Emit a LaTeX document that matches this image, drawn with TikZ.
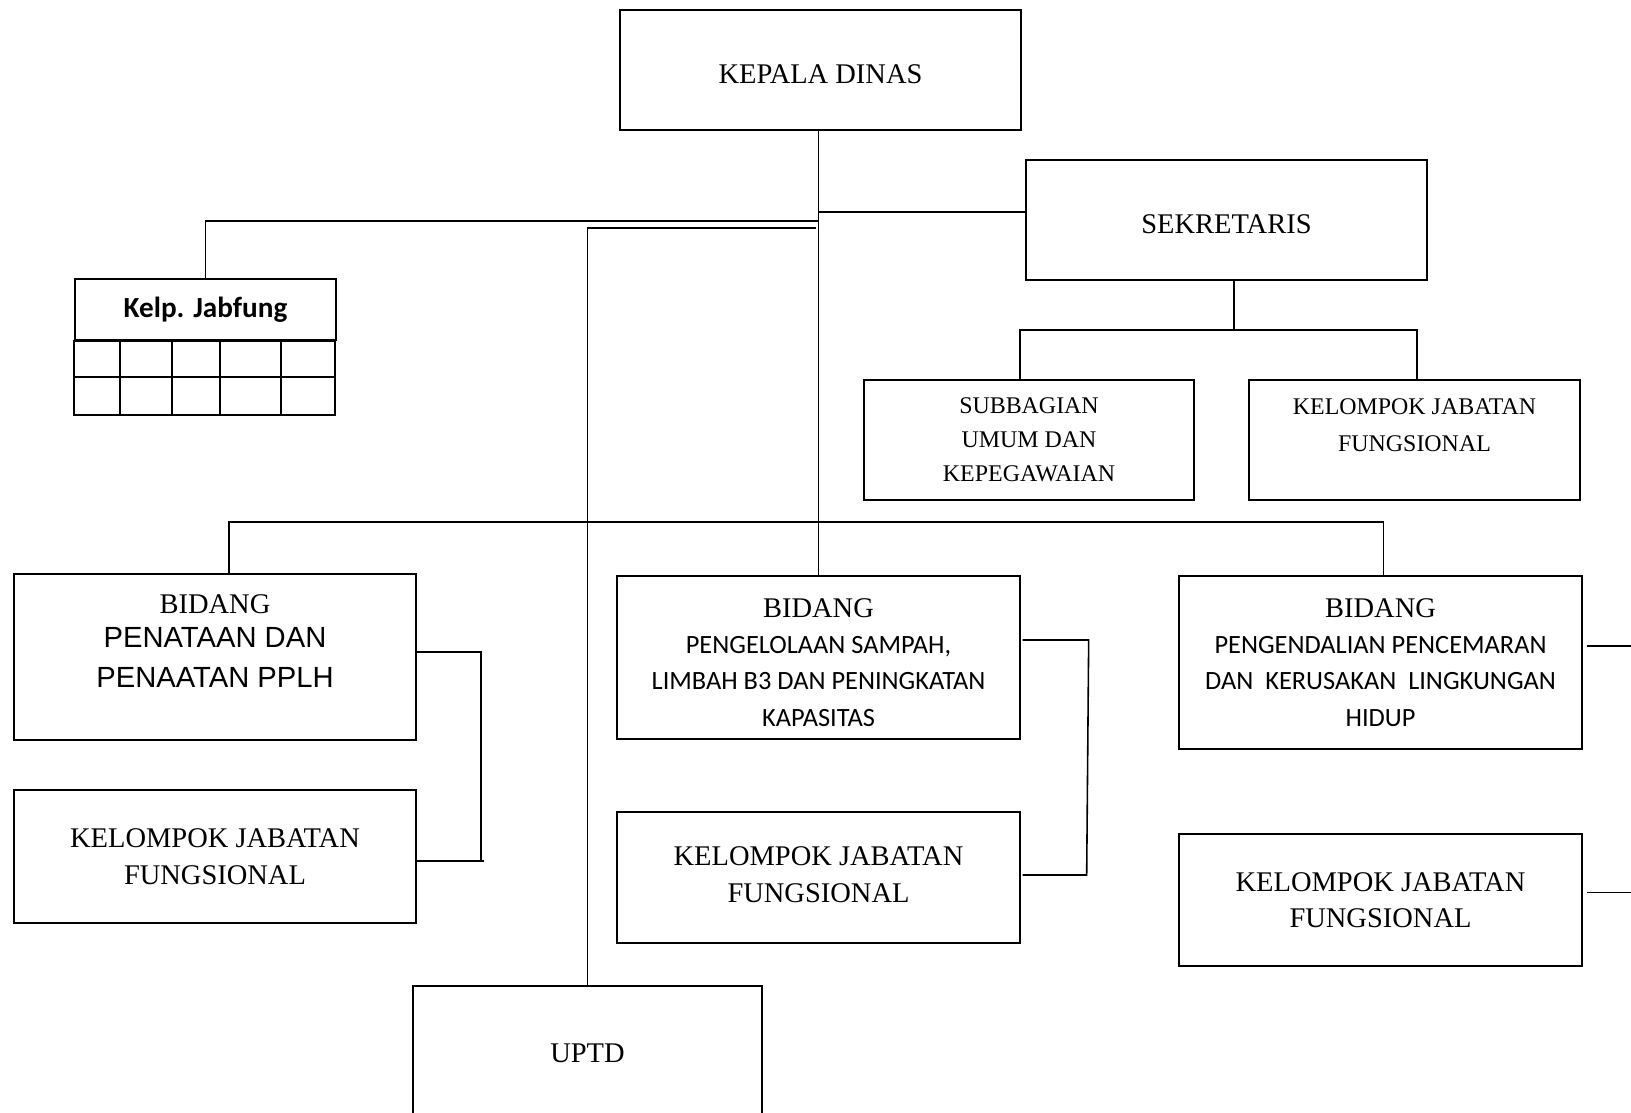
\documentclass[tikz,border=0pt]{standalone}
\usepackage{fontspec}
\setmainfont{Liberation Serif}
\newfontfamily\arialfont{Liberation Sans}
\newfontfamily\calfont{Carlito}
\newcommand{\fntbig}{\fontsize{8.1pt}{10.4pt}\selectfont}
\newcommand{\fntsmall}{\fontsize{6.8pt}{9.6pt}\selectfont}
\newcommand{\fntsmallb}{\fontsize{6.8pt}{10.4pt}\selectfont}
\newcommand{\fntbidang}{\rmfamily\fontsize{8.1pt}{10.4pt}\selectfont}
\newcommand{\fntarial}{\arialfont\fontsize{8.3pt}{11.2pt}\selectfont}
\newcommand{\fntcal}{\calfont\fontsize{7.5pt}{10.4pt}\selectfont}
\newcommand{\fntkelp}{\calfont\bfseries\fontsize{8.3pt}{10pt}\selectfont}
\newcommand{\bxw}{4.02cm}
\newcommand{\topw}{4.01cm}
\newcommand{\topsh}{1.2cm}
\newcommand{\subw}{3.3cm}

\begin{document}
\begin{tikzpicture}[x=0.01cm,y=-0.01cm,
    bx/.style={draw,line width=0.6pt,inner sep=0pt,align=center},
    ln/.style={line width=0.45pt}]
  \useasboundingbox (0,0) rectangle (1631,1113);
  \clip (0,0) rectangle (1631,1113);

  \node[bx,minimum width=\topw,minimum height=\topsh,font=\fntbig,text height=7.8pt]
    (kepala) at (820.5,70) {KEPALA DINAS};
  \node[bx,minimum width=\topw,minimum height=\topsh,font=\fntbig,text height=7.8pt]
    (sek) at (1226.5,220) {SEKRETARIS};
  \node[bx,minimum width=\subw,minimum height=\topsh,font=\fntsmall]
    (sub) at (1029,440) {SUBBAGIAN\\UMUM DAN\\KEPEGAWAIAN};
  \node[bx,minimum width=\subw,minimum height=\topsh,font=\fntsmallb]
    (kjfs) at (1414.5,440) {KELOMPOK JABATAN\\FUNGSIONAL\\[-2pt]~};

  \node[bx,minimum width=2.61cm,minimum height=0.61cm,font=\fntkelp]
    (kelp) at (205.5,309.5) {Kelp. Jabfung};
  \draw[line width=0.6pt] (kelp.south west) rectangle ++(261,74);
  \draw[line width=0.6pt] (kelp.south west) ++(0,36) -- ++(261,0);
  \foreach \cx in {46,98,146,207}
    \draw[line width=0.6pt] (kelp.south west) ++(\cx,0) -- ++(0,74);

  \node[bx,minimum width=\bxw,minimum height=1.66cm,font=\fntarial]
    (bid1) at (215,657) {{\fntbidang BIDANG}\\[-1.4pt]PENATAAN DAN\\PENAATAN PPLH\\[-2pt]~};
  \node[bx,minimum width=\bxw,minimum height=1.33cm,font=\fntbig]
    (kjf1) at (215,856.5) {KELOMPOK JABATAN\\FUNGSIONAL};
  \node[bx,minimum width=\bxw,minimum height=1.63cm,font=\fntcal]
    (bid2) at (818.5,657.5) {{\fntbidang\rule{0pt}{8.2pt}BIDANG}\\[-0.3pt]PENGELOLAAN SAMPAH,\\LIMBAH B3 DAN PENINGKATAN\\KAPASITAS};
  \node[bx,minimum width=\bxw,minimum height=1.31cm,font=\fntbig,text depth=1.8pt]
    (kjf2) at (818.5,877.5) {KELOMPOK JABATAN\\FUNGSIONAL};
  \node[bx,minimum width=\bxw,minimum height=1.73cm,font=\fntcal]
    (bid3) at (1380.5,662.5) {{\fntbidang BIDANG}\\[-0.3pt]PENGENDALIAN PENCEMARAN\\DAN~~KERUSAKAN~~LINGKUNGAN\\HIDUP};
  \node[bx,minimum width=\bxw,minimum height=1.32cm,font=\fntbig]
    (kjf3) at (1380.5,900) {KELOMPOK JABATAN\\FUNGSIONAL};

  \node[bx,minimum width=3.49cm,minimum height=1.34cm,font=\fntbig]
    (uptd) at (587.5,1053) {UPTD};

  \coordinate (jsek) at (818,212);
  \coordinate (jkelp) at (818,221);
  \coordinate (juptd) at (816,228);
  \coordinate (jsub) at (1234,330);
  \coordinate (bsubl) at (1020,330);
  \coordinate (bsubr) at (1417,330);
  \coordinate (bbidl) at (229,522);
  \coordinate (bbidr) at (1383.5,522);

  \draw[ln] (kepala.south -| bid2.north) -- (bid2.north);
  \draw[ln] (jsek) -- (jsek -| sek.west);
  \draw[ln] (jkelp) -| (kelp.north);
  \draw[ln] (juptd) -| (uptd.north);
  \draw[ln] (sek.south -| jsub) -- (jsub);
  \draw[ln] (bsubl |- sub.north) -- (bsubl) -- (bsubr) -- (bsubr |- kjfs.north);
  \draw[ln] (bbidl |- bid1.north) -- (bbidl) -- (bbidr) -- (bbidr |- bid3.north);

  \draw[ln] ([yshift=0.05cm]bid1.east) -- ++(64,0) |- ([yshift=-0.045cm]kjf1.east);
  \draw[ln] ([yshift=-0.045cm]kjf1.east) ++(64,0) -- ++(3,0);
  \draw[ln] ([shift={(2,-17.5)}]bid2.east) -- ++(66,0) -- ++(-2,235)
    -- ([shift={(2,-2.5)}]kjf2.east);
  \draw[ln] ([shift={(4,-16.5)}]bid3.east) -- ++(60,0);
  \draw[ln] ([shift={(4,-7.3)}]kjf3.east) -- ++(60,0);
\end{tikzpicture}
\end{document}
